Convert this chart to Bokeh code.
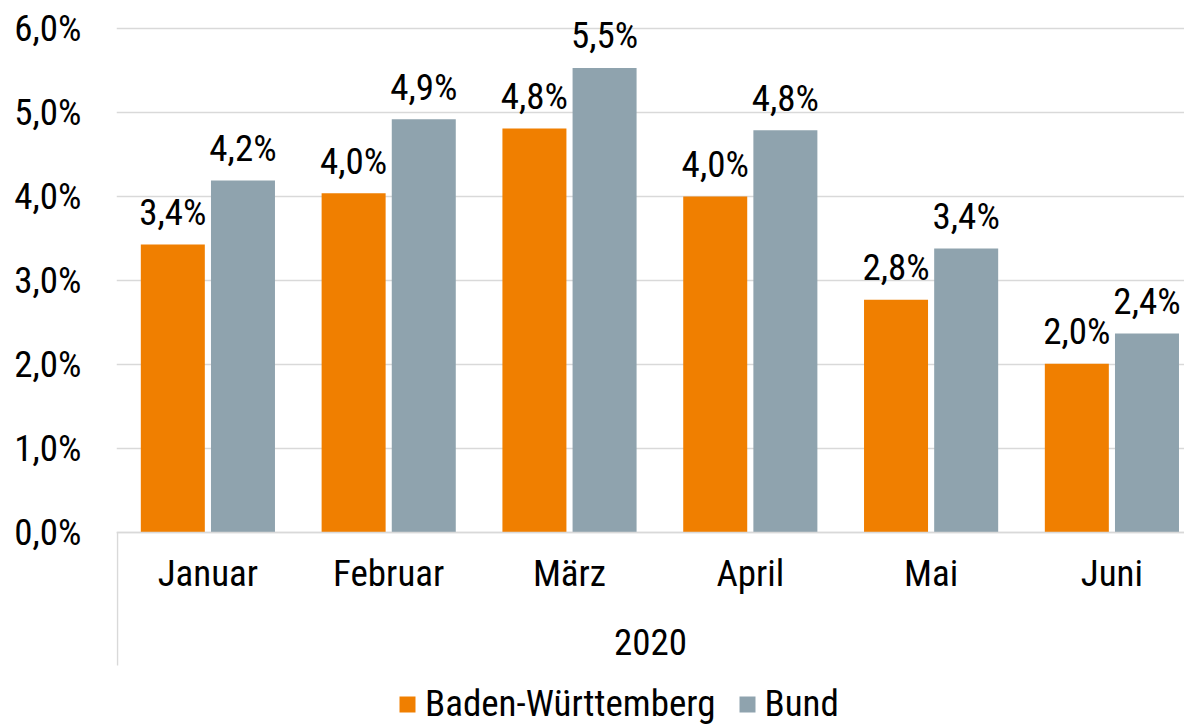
import numpy as np
from bokeh.plotting import figure
from bokeh.models import (ColumnDataSource, Range1d, FixedTicker, Legend, LegendItem)
from bokeh.transform import dodge
from bokeh.embed import file_html
from bokeh.resources import INLINE

# ---- data ----
months = ["Januar", "Februar", "März", "April", "Mai", "Juni"]
year_label = "2020"
series_names = ["Baden-Württemberg", "Bund"]
bw_values = [3.43, 4.04, 4.81, 4.00, 2.77, 2.01]
bund_values = [4.19, 4.92, 5.53, 4.79, 3.38, 2.37]
bw_labels = ["3,4%", "4,0%", "4,8%", "4,0%", "2,8%", "2,0%"]
bund_labels = ["4,2%", "4,9%", "5,5%", "4,8%", "3,4%", "2,4%"]
y_ticks = [0, 1, 2, 3, 4, 5, 6]
y_tick_labels = ["0,0%", "1,0%", "2,0%", "3,0%", "4,0%", "5,0%", "6,0%"]

FONT = "Roboto Condensed"
FS = "37px"
ORANGE = "#F07F00"
GREY = "#8FA3AE"
GRID = "#D9D9D9"

n = len(months)
centers = list(np.arange(n) + 0.5)
src = ColumnDataSource(dict(x=centers, bw=bw_values, bund=bund_values,
                            bwl=bw_labels, bundl=bund_labels))

Y_TOP = 6.3333       # headroom above the top gridline for data labels
Y_BOTTOM = -2.3095   # room below zero for category labels and legend
Y_DIVIDER = -1.583   # lower end of the category-area divider line
p = figure(width=1184, height=726, output_backend="svg", toolbar_location=None,
           x_range=Range1d(-0.0055, 5.9015), y_range=Range1d(Y_BOTTOM, Y_TOP),
           min_border_left=116, min_border_right=0, min_border_top=0,
           min_border_bottom=0)
p.outline_line_color = None
p.background_fill_color = "white"
p.border_fill_color = "white"

off = 0.194
w = 0.354
r1 = p.vbar(x=dodge("x", -off, range=p.x_range), top="bw", bottom=0, width=w, source=src,
            fill_color=ORANGE, line_color=None)
r2 = p.vbar(x=dodge("x", off, range=p.x_range), top="bund", bottom=0, width=w, source=src,
            fill_color=GREY, line_color=None)

for col, ycol, d in (("bwl", "bw", -off), ("bundl", "bund", off)):
    p.text(x=dodge("x", d, range=p.x_range), y=ycol,
           text=col, source=src, text_align="center", text_baseline="alphabetic",
           y_offset=-32, text_font_size=FS, text_color="#000000",
           text_font={"value": FONT})

# group divider lines (category area left/right boundary)
p.segment(x0=[0, n], y0=[0, 0], x1=[0, n], y1=[Y_DIVIDER, Y_DIVIDER],
          line_color=GRID, line_width=1.5)

# y axis
ya = p.yaxis[0]
ya.ticker = FixedTicker(ticks=y_ticks)
ya.major_label_overrides = {t: l for t, l in zip(y_ticks, y_tick_labels)}
ya.axis_line_color = None
ya.major_tick_line_color = None
ya.minor_tick_line_color = None
ya.major_tick_out = 0
ya.major_tick_in = 0
ya.major_label_standoff = 35
ya.major_label_text_font = FONT
ya.major_label_text_font_size = FS
ya.major_label_text_color = "#000000"

p.ygrid.ticker = FixedTicker(ticks=y_ticks)
p.ygrid.grid_line_color = GRID
p.ygrid.grid_line_width = 1.5
p.xgrid.grid_line_color = None

# x axis at zero
xa = p.xaxis[0]
xa.fixed_location = 0
xa.ticker = FixedTicker(ticks=centers)
xa.major_label_overrides = {c: m for c, m in zip(centers, months)}
xa.axis_line_color = GRID
xa.axis_line_width = 1.5
xa.major_tick_line_color = None
xa.minor_tick_line_color = None
xa.major_tick_out = 0
xa.major_tick_in = 0
xa.major_label_standoff = 19
xa.major_label_text_font = FONT
xa.major_label_text_font_size = FS
xa.major_label_text_color = "#000000"
xa.axis_label = year_label
xa.axis_label_text_font = FONT
xa.axis_label_text_font_size = FS
xa.axis_label_text_font_style = "normal"
xa.axis_label_text_color = "#000000"
xa.axis_label_standoff = 31

legend = Legend(items=[LegendItem(label=series_names[0], renderers=[r1]),
                       LegendItem(label=series_names[1], renderers=[r2])],
                orientation="horizontal", location=(281, 1),
                padding=0, margin=0, spacing=21, label_standoff=8,
                glyph_width=20, glyph_height=20,
                label_text_font=FONT, label_text_font_size=FS,
                label_text_color="#000000",
                border_line_color=None, background_fill_alpha=0)
p.add_layout(legend, "center")

open("out.html", "w").write(file_html(p, INLINE))
